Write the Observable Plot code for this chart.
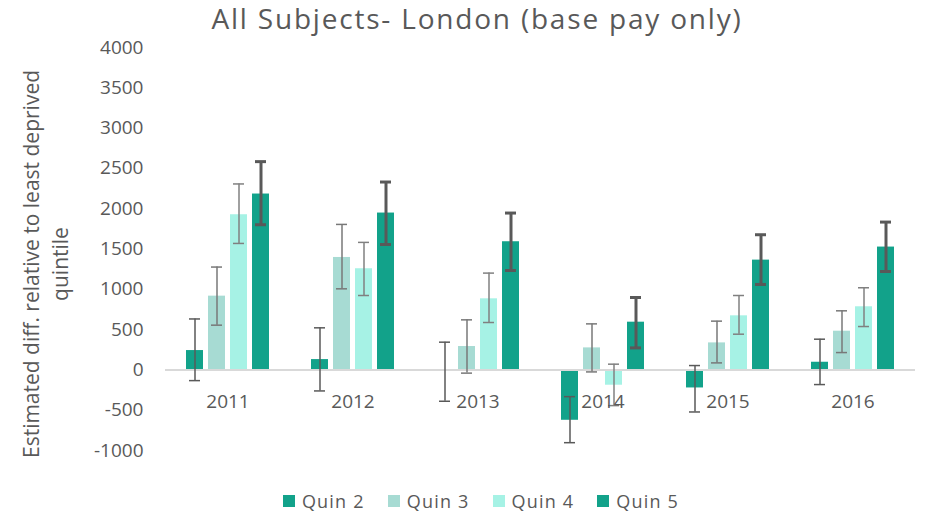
<!DOCTYPE html>
<html>
<head>
<meta charset="utf-8">
<script src="https://cdn.jsdelivr.net/npm/d3@7"></script>
<script src="https://cdn.jsdelivr.net/npm/@observablehq/plot@0.6"></script>
<style>
  html, body { margin: 0; padding: 0; background: #fff; overflow: hidden; }
  body { width: 925px; height: 513px; font-family: "Open Sans", sans-serif; color: #595959; }
  #title { height: 30px; line-height: 36px; font-size: 28px; letter-spacing: 1.8px; text-align: center; padding-left: 29px; white-space: nowrap; }
  #legend { height: 24px; padding-top: 9px; display: flex; justify-content: center; align-items: center; padding-left: 37px; font-size: 18px; letter-spacing: 1.2px; gap: 23px; }
  #legend .item { display: flex; align-items: center; gap: 7px; }
  #legend .sw { width: 12px; height: 12px; display: inline-block; }
  svg { display: block; }
</style>
</head>
<body>
<div id="title">All Subjects- London (base pay only)</div>
<div id="chart"></div>
<div id="legend"></div>
<script>
const years = ["2011", "2012", "2013", "2014", "2015", "2016"];
const quins = ["Quin 2", "Quin 3", "Quin 4", "Quin 5"];

const q2   = [240, 128, -12, -625, -224, 95];
const q2Lo = [-133, -261, -389, -903, -522, -182];
const q2Hi = [632, 522, 344, -332, 54, 381];

const q3   = [915, 1395, 290, 273, 335, 480];
const q3Lo = [555, 1006, -40, -25, 87, 215];
const q3Hi = [1276, 1805, 621, 571, 605, 733];

const q4   = [1925, 1255, 882, -190, 671, 783];
const q4Lo = [1569, 923, 588, -443, 443, 538];
const q4Hi = [2307, 1582, 1201, 71, 923, 1019];

const q5   = [2182, 1946, 1590, 592, 1362, 1524];
const q5Lo = [1801, 1556, 1233, 273, 1060, 1221];
const q5Hi = [2584, 2331, 1946, 898, 1677, 1834];

const yTicks = [-1000, -500, 0, 500, 1000, 1500, 2000, 2500, 3000, 3500, 4000];
const yLabel = "Estimated diff. relative to least deprived\nquintile";

const barColors = ["#12a28a", "#a7dbd3", "#a6f2e5", "#12a28a"];
const errColors = ["#595959", "#787878", "#808080", "#595959"];
const errWidths = [1.5, 1.5, 1.5, 3];

const vals = [q2, q3, q4, q5], los = [q2Lo, q3Lo, q4Lo, q5Lo], his = [q2Hi, q3Hi, q4Hi, q5Hi];
const data = years.flatMap((yr, i) => quins.map((q, j) => ({
  year: yr, quin: q, value: vals[j][i], lo: los[j][i], hi: his[j][i]
})));

const errMarks = quins.flatMap((q, j) => {
  const sub = data.filter(d => d.quin === q);
  return [
    Plot.ruleX(sub, {fx: "year", x: "quin", y1: "lo", y2: "hi", stroke: errColors[j], strokeWidth: errWidths[j]}),
    Plot.tickY(sub, {fx: "year", x: "quin", y: "hi", stroke: errColors[j], strokeWidth: errWidths[j], insetLeft: 3, insetRight: 3}),
    Plot.tickY(sub, {fx: "year", x: "quin", y: "lo", stroke: errColors[j], strokeWidth: errWidths[j], insetLeft: 3, insetRight: 3})
  ];
});

const chart = Plot.plot({
  width: 925,
  height: 450,
  marginTop: 17,
  marginBottom: 30,
  marginLeft: 165,
  marginRight: 10,
  style: {fontFamily: "Open Sans", fontSize: "19px", color: "#595959", background: "transparent"},
  fx: {domain: years, padding: 0, axis: null},
  x: {domain: quins, paddingInner: 0.21, paddingOuter: 0.85, axis: null},
  y: {domain: [-1000, 4000], ticks: yTicks, tickSize: 0, tickPadding: 22, tickFormat: d => String(d), label: null},
  color: {domain: quins, range: barColors},
  marks: [
    Plot.barY(data, {fx: "year", x: "quin", y: "value", fill: "quin"}),
    Plot.ruleY([0], {stroke: "#d9d9d9", strokeWidth: 2}),
    ...errMarks,
    Plot.text(years, {fx: d => d, y: d => 0, text: d => d, dy: 32, fontSize: 19, fill: "#595959", style: "letter-spacing:0.8px"}),
    Plot.text([years[0]], {fx: d => d, frameAnchor: "left", text: d => yLabel, rotate: -90, dx: -121, dy: 15, textAnchor: "middle", lineAnchor: "middle", lineHeight: 1.35, fontSize: 21, fill: "#595959", style: "letter-spacing:0.8px"})
  ]
});
document.getElementById("chart").appendChild(chart);

const legend = document.getElementById("legend");
quins.forEach((q, j) => {
  const item = document.createElement("div");
  item.className = "item";
  const sw = document.createElement("span");
  sw.className = "sw";
  sw.style.background = barColors[j];
  const label = document.createElement("span");
  label.textContent = q;
  item.appendChild(sw);
  item.appendChild(label);
  legend.appendChild(item);
});
</script>
</body>
</html>
